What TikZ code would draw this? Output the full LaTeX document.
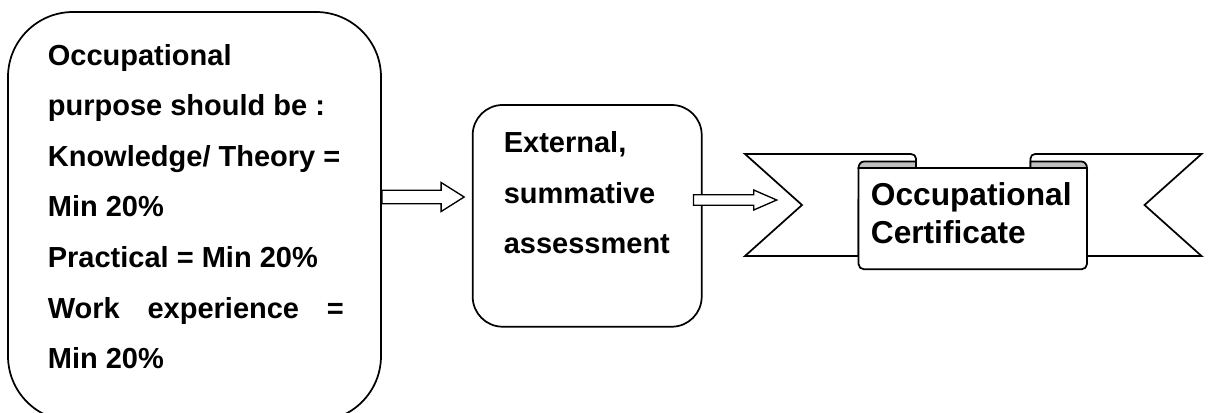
\documentclass[tikz,border=0pt]{standalone}
\usepackage{fontspec}
\setmainfont{Liberation Sans}
\usetikzlibrary{calc}
\definecolor{rollgray}{RGB}{192,192,192}

\begin{document}
\begin{tikzpicture}[x=0.75pt,y=-0.75pt,line width=1.3pt,
  txt/.style={anchor=north west,inner sep=0pt,align=left,font=\fontsize{21.75}{37.9}\selectfont\bfseries},
  blockarrow/.style n args={3}{draw,fill=white,line width=1pt,to path={
    ($(\tikztostart)+(0,-#1)$) -- ($(\tikztotarget)+(-#3,-#1)$) -- ($(\tikztotarget)+(-#3,-#2)$)
    -- (\tikztotarget) -- ($(\tikztotarget)+(-#3,#2)$) -- ($(\tikztotarget)+(-#3,#1)$)
    -- ($(\tikztostart)+(0,#1)$) -- cycle}}]

\useasboundingbox (0,0) rectangle (1209,412);

% boxes
\node[draw,rounded corners=48.75pt,minimum width=279.75pt,minimum height=306.75pt] (purpose) at (194.5,216.5) {};
\node[txt] (purposetext) at (47,43.5) {Occupational\\purpose should be :\\Knowledge/ Theory =\\Min 20\%\\Practical = Min 20\%\\\makebox[222pt][s]{Work experience =}\\Min 20\%};

\node[draw,rounded corners=22.5pt,minimum width=171.75pt,minimum height=166.3pt] (assess) at (587.2,215.85) {};
\node[txt] (assesstext) at (503,130.6) {External,\\summative\\assessment};

% ribbon
\draw[fill=white] (858.5,256) -- (745,256) -- (802,205) -- (745,154) -- (911,154) to[out=0,in=90] (916,158.5) -- (916,200) -- (858.5,200) -- cycle;
\draw[fill=white] (1087,256) -- (1201.5,256) -- (1144.5,205) -- (1201.5,154) -- (1035,154) to[out=180,in=90] (1030.5,158.5) -- (1030.5,200) -- (1087,200) -- cycle;
\draw[fill=white] (858.5,168) -- (858.5,264) to[out=-90,in=180] (864,269.3) -- (1081.5,269.3) to[out=0,in=-90] (1087,264) -- (1087,168) -- cycle;
\draw[fill=rollgray] (858.5,168) to[out=90,in=180] (864,161.5) -- (916,161.5) -- (916,168) -- cycle;
\draw[fill=rollgray] (1087,168) to[out=90,in=0] (1081.5,161.5) -- (1030.5,161.5) -- (1030.5,168) -- cycle;
\node[txt,font=\fontsize{23.76}{28.7}\selectfont\bfseries] (cert) at (870,181.5) {Occupational\\Certificate};
\coordinate (ribbon) at (802,200);

% arrows
\coordinate (tailA) at (purpose.east |- 0,197);
\coordinate (tipA) at ($(assess.west |- 0,197)+(-7.7,0)$);
\draw[blockarrow={6.7}{14.5}{23}] (tailA) to (tipA);
\coordinate (tailB) at ($(assess.east |- 0,200)+(-9,0)$);
\coordinate (tipB) at ($(ribbon)+(-25.3,0)$);
\draw[blockarrow={5.3}{10}{23}] (tailB) to (tipB);

\end{tikzpicture}
\end{document}
